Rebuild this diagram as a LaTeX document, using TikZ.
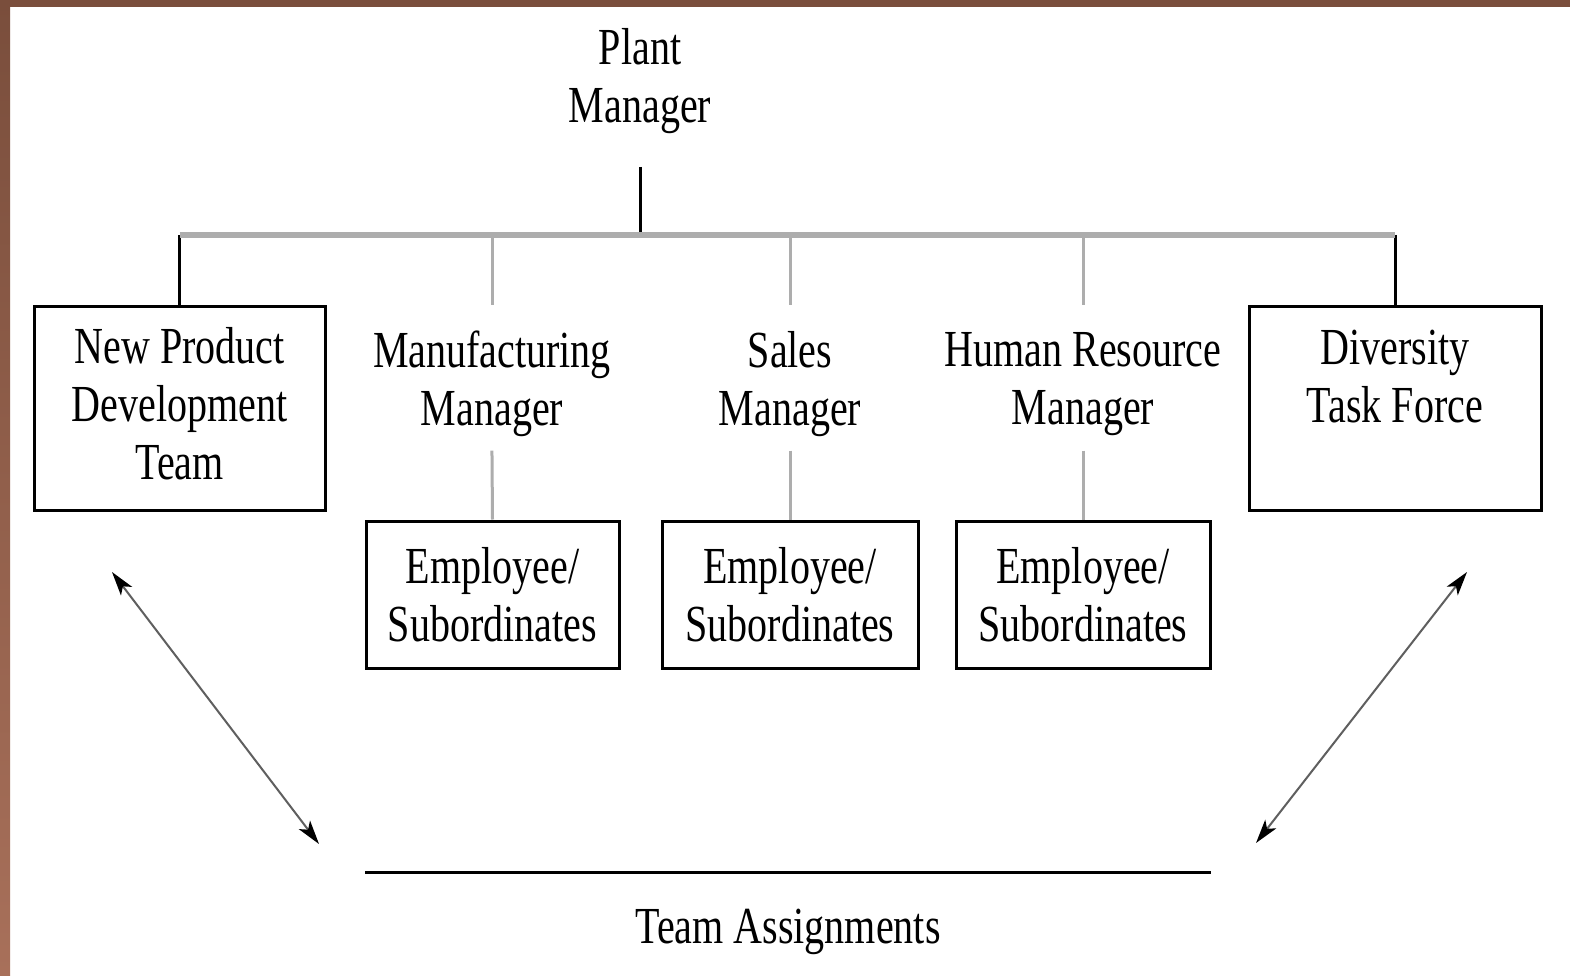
\documentclass[tikz,border=0pt]{standalone}
\usepackage{fontspec}
\setmainfont{Liberation Serif}
\usetikzlibrary{arrows.meta}
\newcommand\sq[1]{\scalebox{0.77}[1]{#1}}
\definecolor{framebrown}{RGB}{122,78,60}
\definecolor{framelight}{RGB}{168,112,90}
\definecolor{busgray}{RGB}{173,173,173}
\definecolor{arrgray}{RGB}{95,95,95}
\begin{document}
\begin{tikzpicture}[x=1pt,y=-1pt,
  txt/.style={font=\fontsize{52}{58}\selectfont, align=center, inner sep=0pt},
  box/.style={draw=black, line width=3pt, inner sep=0pt},
  mgr/.style={txt, minimum height=145pt},
  blk/.style={draw=black, line width=3pt},
  gry/.style={draw=busgray, line width=3pt},
  bus/.style={draw=busgray, line width=6pt},
  twoway/.style={draw=arrgray, line width=2pt,
    {Stealth[length=24pt,width=14pt,inset=6pt,color=black]}-{Stealth[length=24pt,width=14pt,inset=6pt,color=black]}}]
\useasboundingbox (0,0) rectangle (1570,976);
\fill[white] (0,0) rectangle (1570,976);
\fill[framebrown] (0,0) rectangle (1570,7);
\shade[top color=framebrown, bottom color=framelight] (0,0) rectangle (10,976);

% top
\node[txt] (plant) at (640,81) {\sq{Plant}\\\sq{Manager}};
\coordinate (plantfoot) at (640,167);
\coordinate (busM) at (640,235);

% boxes
\node[box, minimum width=291pt, minimum height=204pt] (npd) at (179.5,408) {};
\node[txt] (npdtext) at (179.5,404) {\sq{New Product}\\\sq{Development}\\\sq{Team}};
\node[box, minimum width=292pt, minimum height=204pt] (div) at (1395,408) {};
\node[txt] (divtext) at (1395,377) {\sq{Diversity}\\\sq{Task Force}};

% managers
\node[mgr] (mfg) at (492,384) {\sq{Manufacturing}\\\sq{Manager}};
\node[mgr] (sales) at (790,384) {\sq{Sales}\\\sq{Manager}};
\node[mgr] (hr) at (1083,384) {\sq{Human Resource}\\\sq{Manager}};

% employee boxes
\node[box, minimum width=253pt, minimum height=147pt] (emp1) at (492.5,594.5) {};
\node[box, minimum width=256pt, minimum height=147pt] (emp2) at (790,594.5) {};
\node[box, minimum width=254pt, minimum height=147pt] (emp3) at (1083,594.5) {};
\node[txt] (emp1text) at (492.5,595) {\sq{Employee/}\\\sq{Subordinates}};
\node[txt] (emp2text) at (790,595) {\sq{Employee/}\\\sq{Subordinates}};
\node[txt] (emp3text) at (1083,595) {\sq{Employee/}\\\sq{Subordinates}};

% connectors
\draw[blk] (plantfoot) -- (busM);
\draw[blk] (npd.north |- busM) -- (npd.north);
\draw[blk] (div.north |- busM) -- (div.north);
\draw[gry, shorten >=6pt] (mfg.north |- busM) -- (mfg.north);
\draw[gry, shorten >=6pt] (sales.north |- busM) -- (sales.north);
\draw[gry, shorten >=6pt] (hr.north |- busM) -- (hr.north);
\draw[gry, shorten <=-6pt] (mfg.south) -- (emp1.north);
\draw[gry, shorten <=-6pt] (sales.south) -- (emp2.north);
\draw[gry, shorten <=-6pt] (hr.south) -- (emp3.north);
\draw[bus] (npd.north |- busM) -- (div.north |- busM);

% arrows
\coordinate (la1) at (112,572);
\coordinate (la2) at (319,844);
\coordinate (ra1) at (1467,572);
\coordinate (ra2) at (1256,843);
\draw[twoway] (la1) -- (la2);
\draw[twoway] (ra1) -- (ra2);

% team assignments
\coordinate (tl) at (365,872);
\coordinate (tr) at (1211,872);
\draw[blk] (tl) -- (tr);
\node[txt, anchor=base] (team) at (788,943) {\sq{Team Assignments}};
\end{tikzpicture}
\end{document}
